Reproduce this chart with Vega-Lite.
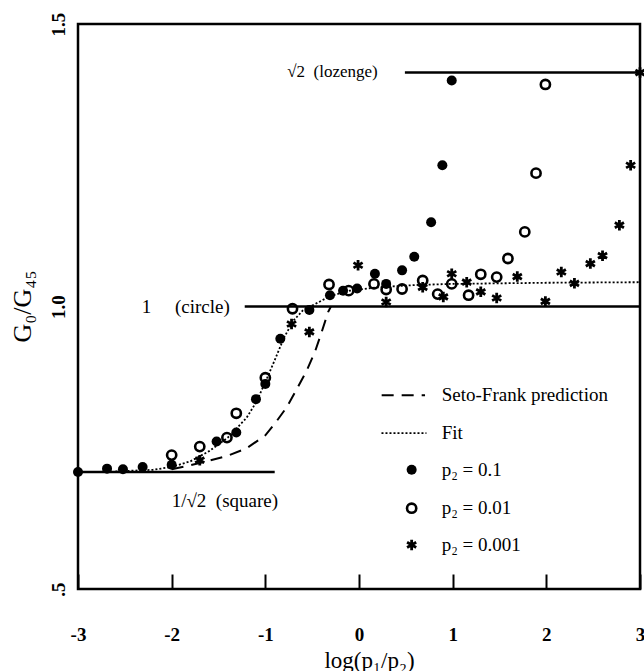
{
  "$schema": "https://vega.github.io/schema/vega-lite/v6.json",
  "width": 562,
  "height": 565,
  "autosize": {"type": "none"},
  "padding": {"left": 78, "top": 24, "right": 4, "bottom": 82},
  "background": "white",
  "datasets": {
    "pts": [
      {"s": "a", "x": -3.0, "y": 0.707}, {"s": "a", "x": -2.69, "y": 0.713}, {"s": "a", "x": -2.52, "y": 0.712},
      {"s": "a", "x": -2.31, "y": 0.716}, {"s": "a", "x": -2.0, "y": 0.72}, {"s": "a", "x": -1.52, "y": 0.761},
      {"s": "a", "x": -1.31, "y": 0.777}, {"s": "a", "x": -1.10, "y": 0.836}, {"s": "a", "x": -1.0, "y": 0.863},
      {"s": "a", "x": -0.84, "y": 0.943}, {"s": "a", "x": -0.53, "y": 0.994}, {"s": "a", "x": -0.31, "y": 1.02},
      {"s": "a", "x": -0.17, "y": 1.028}, {"s": "a", "x": -0.02, "y": 1.032}, {"s": "a", "x": 0.17, "y": 1.058},
      {"s": "a", "x": 0.29, "y": 1.04}, {"s": "a", "x": 0.46, "y": 1.064}, {"s": "a", "x": 0.59, "y": 1.088},
      {"s": "a", "x": 0.77, "y": 1.149}, {"s": "a", "x": 0.89, "y": 1.25}, {"s": "a", "x": 0.99, "y": 1.40},
      {"s": "b", "x": -2.0, "y": 0.737}, {"s": "b", "x": -1.70, "y": 0.752}, {"s": "b", "x": -1.41, "y": 0.768},
      {"s": "b", "x": -1.31, "y": 0.811}, {"s": "b", "x": -1.0, "y": 0.874}, {"s": "b", "x": -0.71, "y": 0.996},
      {"s": "b", "x": -0.32, "y": 1.039}, {"s": "b", "x": -0.11, "y": 1.028}, {"s": "b", "x": 0.16, "y": 1.04},
      {"s": "b", "x": 0.29, "y": 1.03}, {"s": "b", "x": 0.46, "y": 1.031}, {"s": "b", "x": 0.68, "y": 1.046},
      {"s": "b", "x": 0.84, "y": 1.022}, {"s": "b", "x": 0.99, "y": 1.04}, {"s": "b", "x": 1.17, "y": 1.02},
      {"s": "b", "x": 1.30, "y": 1.057}, {"s": "b", "x": 1.47, "y": 1.052}, {"s": "b", "x": 1.59, "y": 1.085},
      {"s": "b", "x": 1.77, "y": 1.132}, {"s": "b", "x": 1.89, "y": 1.236}, {"s": "b", "x": 1.99, "y": 1.393},
      {"s": "c", "x": -1.70, "y": 0.728}, {"s": "c", "x": -0.72, "y": 0.969}, {"s": "c", "x": -0.53, "y": 0.955},
      {"s": "c", "x": -0.01, "y": 1.073}, {"s": "c", "x": 0.29, "y": 1.008}, {"s": "c", "x": 0.68, "y": 1.034},
      {"s": "c", "x": 0.90, "y": 1.017}, {"s": "c", "x": 0.99, "y": 1.058}, {"s": "c", "x": 1.15, "y": 1.043},
      {"s": "c", "x": 1.30, "y": 1.026}, {"s": "c", "x": 1.47, "y": 1.015}, {"s": "c", "x": 1.69, "y": 1.053},
      {"s": "c", "x": 1.99, "y": 1.009}, {"s": "c", "x": 2.16, "y": 1.061}, {"s": "c", "x": 2.30, "y": 1.041},
      {"s": "c", "x": 2.47, "y": 1.076}, {"s": "c", "x": 2.60, "y": 1.090}, {"s": "c", "x": 2.78, "y": 1.144},
      {"s": "c", "x": 2.90, "y": 1.25}, {"s": "c", "x": 3.0, "y": 1.414}
    ],
    "curves": [
      {"c": "seto", "o": 1, "x": -2.0, "y": 0.712}, {"c": "seto", "o": 2, "x": -1.8, "y": 0.719},
      {"c": "seto", "o": 3, "x": -1.6, "y": 0.727}, {"c": "seto", "o": 4, "x": -1.4, "y": 0.736},
      {"c": "seto", "o": 5, "x": -1.2, "y": 0.749}, {"c": "seto", "o": 6, "x": -1.0, "y": 0.772},
      {"c": "seto", "o": 7, "x": -0.88, "y": 0.797}, {"c": "seto", "o": 8, "x": -0.77, "y": 0.822},
      {"c": "seto", "o": 9, "x": -0.66, "y": 0.855}, {"c": "seto", "o": 10, "x": -0.56, "y": 0.886},
      {"c": "seto", "o": 11, "x": -0.47, "y": 0.92}, {"c": "seto", "o": 12, "x": -0.40, "y": 0.954},
      {"c": "seto", "o": 13, "x": -0.33, "y": 0.99}, {"c": "seto", "o": 14, "x": -0.30, "y": 1.0},
      {"c": "fit", "o": 1, "x": -2.6, "y": 0.708}, {"c": "fit", "o": 2, "x": -2.2, "y": 0.711},
      {"c": "fit", "o": 3, "x": -2.0, "y": 0.716}, {"c": "fit", "o": 4, "x": -1.8, "y": 0.726},
      {"c": "fit", "o": 5, "x": -1.6, "y": 0.744}, {"c": "fit", "o": 6, "x": -1.4, "y": 0.768},
      {"c": "fit", "o": 7, "x": -1.2, "y": 0.803}, {"c": "fit", "o": 8, "x": -1.1, "y": 0.83},
      {"c": "fit", "o": 9, "x": -1.0, "y": 0.866}, {"c": "fit", "o": 10, "x": -0.9, "y": 0.905},
      {"c": "fit", "o": 11, "x": -0.8, "y": 0.945}, {"c": "fit", "o": 12, "x": -0.7, "y": 0.975},
      {"c": "fit", "o": 13, "x": -0.6, "y": 0.993}, {"c": "fit", "o": 14, "x": -0.45, "y": 1.006},
      {"c": "fit", "o": 15, "x": -0.3, "y": 1.019}, {"c": "fit", "o": 16, "x": -0.1, "y": 1.028},
      {"c": "fit", "o": 17, "x": 0.2, "y": 1.034}, {"c": "fit", "o": 18, "x": 0.6, "y": 1.038},
      {"c": "fit", "o": 19, "x": 1.0, "y": 1.040}, {"c": "fit", "o": 20, "x": 2.0, "y": 1.042},
      {"c": "fit", "o": 21, "x": 3.0, "y": 1.043}
    ],
    "refs": [
      {"x": -3.0, "x2": -0.9, "y": 0.7071},
      {"x": -1.22, "x2": 3.0, "y": 1.0},
      {"x": 0.49, "x2": 3.0, "y": 1.4142}
    ],
    "notesLoz": [
      {"x": 0.2, "y": 1.4142, "t": "√2\u00a0\u00a0(lozenge)"}
    ],
    "notesR": [
      {"x": -1.38, "y": 1.0, "t": "1\u00a0\u00a0\u00a0\u00a0\u00a0(circle)"}
    ],
    "notesL": [
      {"x": -2.0, "y": 0.655, "t": "1/√2\u00a0\u00a0(square)"}
    ],
    "legLines": [
      {"k": "seto", "x": 0.242, "x2": 0.705, "y": 0.843},
      {"k": "fit", "x": 0.24, "x2": 0.72, "y": 0.776}
    ],
    "legPts": [
      {"s": "a", "x": 0.562, "y": 0.711},
      {"s": "b", "x": 0.562, "y": 0.643},
      {"s": "c", "x": 0.562, "y": 0.578}
    ],
    "legText": [
      {"x": 0.883, "y": 0.843, "t": "Seto-Frank prediction"},
      {"x": 0.883, "y": 0.776, "t": "Fit"},
      {"x": 0.883, "y": 0.711, "t": "p₂ = 0.1"},
      {"x": 0.883, "y": 0.643, "t": "p₂ = 0.01"},
      {"x": 0.883, "y": 0.578, "t": "p₂ = 0.001"}
    ]
  },
  "encoding": {
    "x": {
      "field": "x", "type": "quantitative",
      "scale": {"domain": [-3, 3], "nice": false, "zero": false},
      "axis": {
        "values": [-3, -2, -1, 0, 1, 2, 3],
        "labelExpr": "'' + datum.value",
        "offset": -15,
        "tickSize": 15, "tickWidth": 2, "tickColor": "black",
        "labelPadding": 36, "labelFontSize": 19, "labelFontWeight": "bold", "labelFlush": false,
        "title": "log(p₁/p₂)", "titleFontSize": 23, "titleFontWeight": "normal",
        "titleX": 291, "titleY": 86, "titleBaseline": "middle", "titleAlign": "center"
      }
    },
    "y": {
      "field": "y", "type": "quantitative",
      "scale": {"domain": [0.5, 1.5], "nice": false, "zero": false},
      "axis": {
        "values": [0.5, 1.0, 1.5],
        "labelExpr": "datum.value == 0.5 ? '.5' : format(datum.value, '.1f')",
        "ticks": false, "labelPadding": 10, "labelFontSize": 19, "labelFontWeight": "bold",
        "labelAngle": -90, "labelAlign": "center", "labelBaseline": "bottom", "labelFlush": false,
        "title": "G₀/G₄₅", "titleFontSize": 26, "titleFontWeight": "normal",
        "titleX": -56, "titleY": 282, "titleAngle": -90, "titleBaseline": "middle", "titleAlign": "center"
      }
    }
  },
  "layer": [
    {
      "data": {"name": "refs"},
      "mark": {"type": "rule", "color": "black", "strokeWidth": 2.5},
      "encoding": {"x2": {"field": "x2"}}
    },
    {
      "data": {"name": "curves"},
      "transform": [{"filter": "datum.c == 'seto'"}],
      "mark": {"type": "line", "color": "black", "strokeWidth": 2, "strokeDash": [12, 8]},
      "encoding": {"order": {"field": "o", "type": "quantitative"}}
    },
    {
      "data": {"name": "curves"},
      "transform": [{"filter": "datum.c == 'fit'"}],
      "mark": {"type": "line", "color": "black", "strokeWidth": 1.8, "strokeDash": [2, 2]},
      "encoding": {"order": {"field": "o", "type": "quantitative"}}
    },
    {
      "data": {"name": "legLines"},
      "transform": [{"filter": "datum.k == 'seto'"}],
      "mark": {"type": "rule", "color": "black", "strokeWidth": 2, "strokeDash": [12, 8]},
      "encoding": {"x2": {"field": "x2"}}
    },
    {
      "data": {"name": "legLines"},
      "transform": [{"filter": "datum.k == 'fit'"}],
      "mark": {"type": "rule", "color": "black", "strokeWidth": 1.8, "strokeDash": [2, 2]},
      "encoding": {"x2": {"field": "x2"}}
    },
    {
      "data": {"name": "pts"},
      "transform": [{"filter": "datum.s == 'b'"}],
      "mark": {"type": "point", "shape": "circle", "filled": false, "stroke": "black", "strokeWidth": 2.6, "size": 85, "opacity": 1}
    },
    {
      "data": {"name": "pts"},
      "transform": [{"filter": "datum.s == 'a'"}],
      "mark": {"type": "point", "shape": "circle", "filled": true, "color": "black", "opacity": 1, "size": 100}
    },
    {
      "data": {"name": "pts"},
      "transform": [{"filter": "datum.s == 'c'"}],
      "mark": {"type": "point", "shape": "M0,-1L0,1M-0.87,-0.5L0.87,0.5M-0.87,0.5L0.87,-0.5", "filled": false, "stroke": "black", "strokeWidth": 2.8, "size": 110, "opacity": 1}
    },
    {
      "data": {"name": "legPts"},
      "transform": [{"filter": "datum.s == 'a'"}],
      "mark": {"type": "point", "shape": "circle", "filled": true, "color": "black", "opacity": 1, "size": 100}
    },
    {
      "data": {"name": "legPts"},
      "transform": [{"filter": "datum.s == 'b'"}],
      "mark": {"type": "point", "shape": "circle", "filled": false, "stroke": "black", "strokeWidth": 2.6, "size": 85, "opacity": 1}
    },
    {
      "data": {"name": "legPts"},
      "transform": [{"filter": "datum.s == 'c'"}],
      "mark": {"type": "point", "shape": "M0,-1L0,1M-0.87,-0.5L0.87,0.5M-0.87,0.5L0.87,-0.5", "filled": false, "stroke": "black", "strokeWidth": 2.8, "size": 110, "opacity": 1}
    },
    {
      "data": {"name": "notesLoz"},
      "mark": {"type": "text", "align": "right", "baseline": "middle", "font": "Liberation Serif", "fontSize": 17, "color": "black"},
      "encoding": {"text": {"field": "t"}}
    },
    {
      "data": {"name": "notesR"},
      "mark": {"type": "text", "align": "right", "baseline": "middle", "font": "Liberation Serif", "fontSize": 19, "color": "black"},
      "encoding": {"text": {"field": "t"}}
    },
    {
      "data": {"name": "notesL"},
      "mark": {"type": "text", "align": "left", "baseline": "middle", "font": "Liberation Serif", "fontSize": 19, "color": "black"},
      "encoding": {"text": {"field": "t"}}
    },
    {
      "data": {"name": "legText"},
      "mark": {"type": "text", "align": "left", "baseline": "middle", "font": "Liberation Serif", "fontSize": 19, "color": "black"},
      "encoding": {"text": {"field": "t"}}
    }
  ],
  "config": {
    "view": {"stroke": "black", "strokeWidth": 2.5},
    "axis": {"labelFont": "Liberation Serif", "titleFont": "Liberation Serif", "labelColor": "black", "titleColor": "black", "grid": false, "domain": false}
  }
}
